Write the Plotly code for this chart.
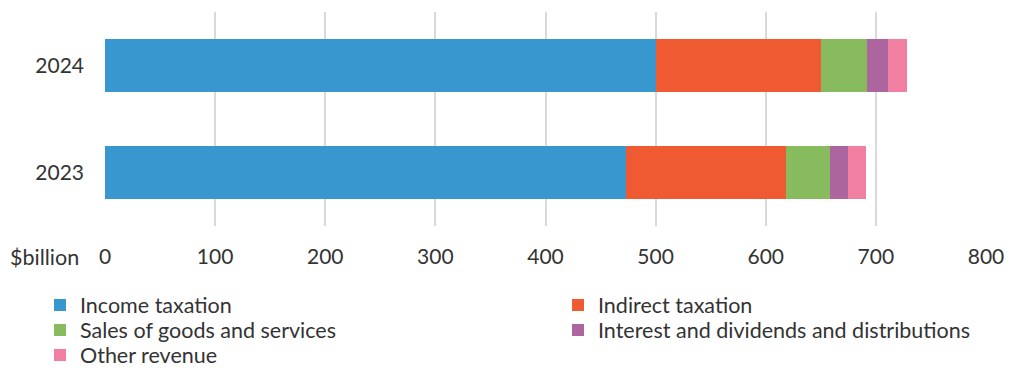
import plotly.graph_objects as go

years = ["2023", "2024"]
series_names = ["Income taxation", "Indirect taxation", "Sales of goods and services",
                "Interest and dividends and distributions", "Other revenue"]
income = [473, 500]
indirect = [145, 150]
sales = [40, 42]
interest = [17, 19]
other = [16, 17]
x_ticks = [0, 100, 200, 300, 400, 500, 600, 700, 800]

colors = ["#3797CE", "#EF5A33", "#88BB5E", "#AC659E", "#F07FA1"]
values = [income, indirect, sales, interest, other]

# legend layout: (column x px, row center y px) in the 1012x370 page
legend_pos = [(40, 305), (558, 305), (40, 330), (558, 330), (40, 355)]

FONT = "Lato, Open Sans, sans-serif"
TXT = "#333333"
W, H = 1012, 370

fig = go.Figure()
legend_layouts = {}
for i, (name, vals, col, pos) in enumerate(zip(series_names, values, colors, legend_pos)):
    lid = "legend" if i == 0 else f"legend{i + 1}"
    fig.add_trace(go.Bar(
        y=years, x=vals, name=name, orientation="h",
        marker=dict(color=col, line=dict(width=0)),
        width=0.5, legend=lid,
    ))
    legend_layouts[lid] = dict(
        xref="container", yref="container",
        x=pos[0] / W, y=1 - pos[1] / H, xanchor="left", yanchor="middle",
        orientation="v", bgcolor="rgba(0,0,0,0)", borderwidth=0,
        font=dict(family=FONT, size=21.5, color=TXT),
    )

fig.update_layout(
    barmode="stack",
    width=W, height=H,
    margin=dict(l=105, r=26, t=12, b=144, autoexpand=False),
    paper_bgcolor="white", plot_bgcolor="white",
    font=dict(family=FONT, size=21, color=TXT),
    showlegend=True,
    xaxis=dict(
        range=[0, 800], tickvals=x_ticks, showgrid=True, gridcolor="#D9D9D9",
        gridwidth=2, zeroline=False, showline=False, ticks="",
        ticklabelstandoff=16, fixedrange=True,
        tickfont=dict(family=FONT, size=21, color=TXT),
    ),
    yaxis=dict(
        categoryorder="array", categoryarray=years, showgrid=False,
        showline=False, ticks="", ticklabelstandoff=20, zeroline=False,
        tickfont=dict(family=FONT, size=21, color=TXT),
    ),
    annotations=[dict(
        text="$billion", xref="paper", yref="paper", x=0, y=-31 / 214,
        xanchor="right", yanchor="middle", xshift=-24, showarrow=False,
        font=dict(family=FONT, size=21.5, color=TXT),
    )],
    **legend_layouts,
)

fig.write_html("out.html")
